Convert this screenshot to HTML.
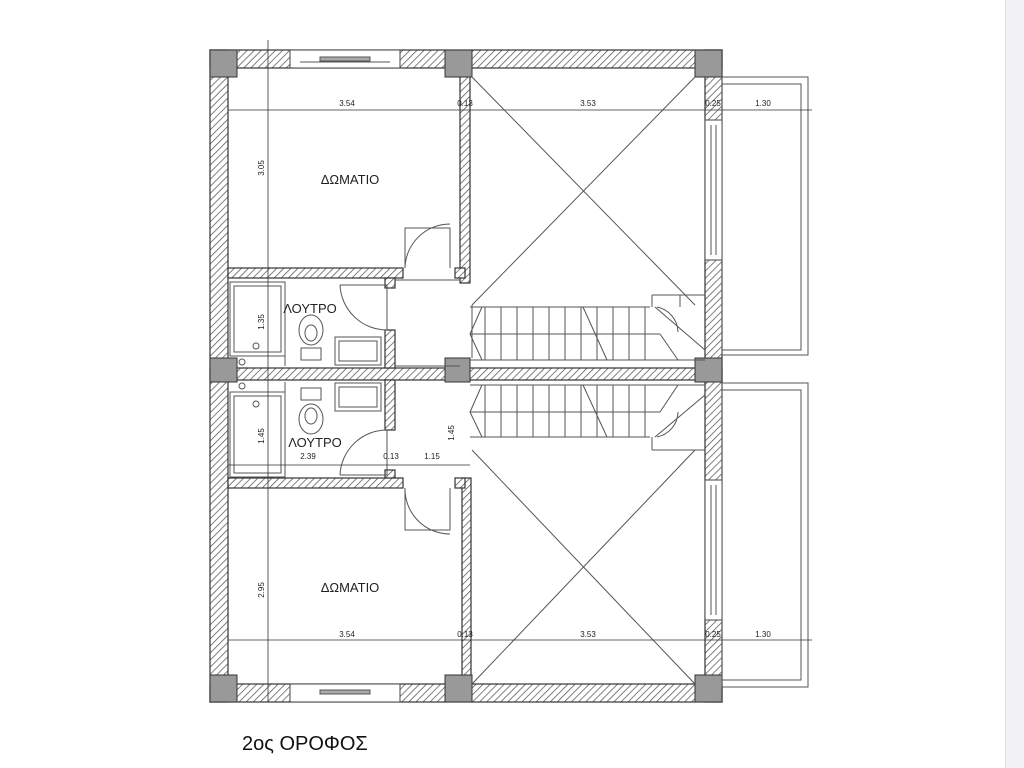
<!DOCTYPE html>
<html><head><meta charset="utf-8"><style>
html,body{margin:0;padding:0;background:#fff;width:1024px;height:768px;overflow:hidden}
.side{position:absolute;left:1005px;top:0;width:19px;height:768px;background:#f2f2f4;border-left:1px solid #e2e2e4}
svg{position:absolute;left:0;top:0}
text{font-family:"Liberation Sans",sans-serif;fill:#222}
</style></head><body>
<div class="side"></div>
<svg width="1024" height="768" viewBox="0 0 1024 768">
<defs>
<pattern id="h" patternUnits="userSpaceOnUse" width="5" height="5" patternTransform="rotate(45)">
<rect width="5" height="5" fill="#fff"/><line x1="0" y1="0" x2="0" y2="5" stroke="#555" stroke-width="1.5"/>
</pattern>
</defs>
<g stroke="#333" stroke-width="1.2" fill="url(#h)">
<rect x="210" y="50" width="512" height="18"/>
<rect x="210" y="684" width="512" height="18"/>
<rect x="210" y="50" width="18" height="652"/>
<rect x="705" y="50" width="17" height="652"/>
<rect x="210" y="368" width="512" height="12"/>
<rect x="460" y="68" width="10" height="215"/>
<rect x="462" y="478" width="9" height="206"/>
<rect x="228" y="268" width="175" height="10"/>
<rect x="455" y="268" width="10" height="10"/>
<rect x="228" y="478" width="175" height="10"/>
<rect x="455" y="478" width="10" height="10"/>
<rect x="385" y="278" width="10" height="10"/>
<rect x="385" y="330" width="10" height="38"/>
<rect x="385" y="380" width="10" height="50"/>
<rect x="385" y="470" width="10" height="8"/>
</g>
<g fill="#fff" stroke="#444">
<rect x="290" y="50" width="110" height="18"/>
<rect x="290" y="684" width="110" height="18"/>
<rect x="705" y="120" width="17" height="140"/>
<rect x="705" y="480" width="17" height="140"/>
</g>
<g stroke="#555" fill="none">
<line x1="300" y1="62" x2="390" y2="62"/><rect x="320" y="57" width="50" height="4" fill="#aaa"/>
<rect x="320" y="690" width="50" height="4" fill="#aaa"/>
<line x1="711" y1="125" x2="711" y2="255"/><line x1="716" y1="125" x2="716" y2="255"/>
<line x1="711" y1="485" x2="711" y2="615"/><line x1="716" y1="485" x2="716" y2="615"/>
</g>
<g fill="#999" stroke="#333">
<rect x="210" y="50" width="27" height="27"/><rect x="445" y="50" width="27" height="27"/><rect x="695" y="50" width="27" height="27"/>
<rect x="210" y="358" width="27" height="24"/><rect x="445" y="358" width="25" height="24"/><rect x="695" y="358" width="27" height="24"/>
<rect x="210" y="675" width="27" height="27"/><rect x="445" y="675" width="27" height="27"/><rect x="695" y="675" width="27" height="27"/>
</g>
<g fill="none" stroke="#555">
<rect x="722" y="77" width="86" height="278"/><path d="M722 84H801V350H722"/>
<rect x="722" y="383" width="86" height="304"/><path d="M722 390H801V680H722"/>
</g>
<g stroke="#555" fill="none" stroke-width="1">
<line x1="472" y1="305" x2="695" y2="77"/><line x1="472" y1="77" x2="695" y2="305"/>
<line x1="472" y1="684" x2="695" y2="450"/><line x1="472" y1="450" x2="695" y2="684"/>
<line x1="472" y1="305" x2="472" y2="358"/>
</g>
<g stroke="#555" fill="none" stroke-width="1">
<path d="M470 307H650M470 360H705M470 385H705M470 437H650"/>
<line x1="470" y1="334" x2="660" y2="334"/><line x1="470" y1="412" x2="660" y2="412"/>
<path d="M485 307V360M501 307V360M517 307V360M533 307V360M549 307V360M565 307V360M581 307V360M597 307V360M613 307V360M629 307V360M645 307V360"/>
<path d="M485 385V437M501 385V437M517 385V437M533 385V437M549 385V437M565 385V437M581 385V437M597 385V437M613 385V437M629 385V437M645 385V437"/>
<path d="M482 307L470 334L482 360M482 385L470 412L482 437"/>
<path d="M583 307L607 360M583 385L607 437"/>
<path d="M652 295H705M652 295V307M657 307A26 26 0 0 1 678 332M655 307L705 350M660 334L678 360M680 295V307"/>
<path d="M652 450H705M652 437V450M657 437A26 26 0 0 0 678 412M655 437L705 395M660 412L678 385"/>
</g>
<g stroke="#555" fill="none" stroke-width="1">
<rect x="230" y="282" width="55" height="74"/><rect x="234" y="286" width="47" height="66"/>
<rect x="230" y="392" width="55" height="85"/><rect x="234" y="396" width="47" height="77"/>
<circle cx="256" cy="346" r="3"/><circle cx="242" cy="362" r="3"/><circle cx="256" cy="404" r="3"/><circle cx="242" cy="386" r="3"/>
<ellipse cx="311" cy="330" rx="12" ry="15"/><ellipse cx="311" cy="333" rx="6" ry="8"/><rect x="301" y="348" width="20" height="12"/>
<ellipse cx="311" cy="419" rx="12" ry="15"/><ellipse cx="311" cy="416" rx="6" ry="8"/><rect x="301" y="388" width="20" height="12"/>
<rect x="335" y="337" width="46" height="28"/><rect x="339" y="341" width="38" height="20"/>
<rect x="335" y="383" width="46" height="28"/><rect x="339" y="387" width="38" height="20"/>
<line x1="285" y1="282" x2="285" y2="366"/><line x1="285" y1="382" x2="285" y2="477"/>
<path d="M340 285H387V330M340 285A47 47 0 0 0 387 330"/>
<path d="M340 475H387V430M340 475A47 47 0 0 1 387 430"/>
<path d="M405 268V228H450V268M405 268A45 45 0 0 1 450 224"/>
<path d="M405 488V530H450V488M405 488A45 45 0 0 0 450 534"/>
<line x1="395" y1="280" x2="460" y2="280"/><line x1="395" y1="366" x2="460" y2="366"/>
</g>
<g stroke="#333" stroke-width="0.8" fill="none">
<line x1="228" y1="110" x2="812" y2="110"/><line x1="228" y1="640" x2="812" y2="640"/>
<line x1="268" y1="40" x2="268" y2="702"/>
<line x1="228" y1="465" x2="470" y2="465"/>
</g>
<g font-size="8" text-anchor="middle">
<text x="347" y="106">3.54</text><text x="465" y="106">0.13</text><text x="588" y="106">3.53</text><text x="713" y="106">0.25</text><text x="763" y="106">1.30</text>
<text x="347" y="637">3.54</text><text x="465" y="637">0.13</text><text x="588" y="637">3.53</text><text x="713" y="637">0.25</text><text x="763" y="637">1.30</text>
<text x="308" y="459">2.39</text><text x="391" y="459">0.13</text><text x="432" y="459">1.15</text>
<text transform="translate(264,168) rotate(-90)">3.05</text>
<text transform="translate(264,322) rotate(-90)">1.35</text>
<text transform="translate(264,436) rotate(-90)">1.45</text>
<text transform="translate(454,433) rotate(-90)">1.45</text>
<text transform="translate(264,590) rotate(-90)">2.95</text>
</g>
<g font-size="13" text-anchor="middle">
<text x="350" y="184">ΔΩΜΑΤΙΟ</text><text x="350" y="592">ΔΩΜΑΤΙΟ</text>
<text x="310" y="313">ΛΟΥΤΡΟ</text><text x="315" y="447">ΛΟΥΤΡΟ</text>
</g>
<text x="242" y="750" font-size="20" style="fill:#111">2ος ΟΡΟΦΟΣ</text>
</svg>
</body></html>
